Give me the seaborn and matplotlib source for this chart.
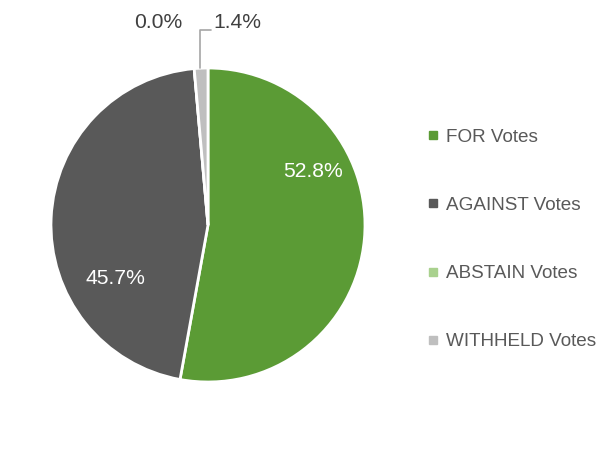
import matplotlib
matplotlib.use("Agg")
import matplotlib.pyplot as plt
from matplotlib.lines import Line2D
import seaborn as sns

categories = ["FOR Votes", "AGAINST Votes", "ABSTAIN Votes", "WITHHELD Votes"]
values = [52.8, 45.7, 0.0, 1.4]
labels = ["52.8%", "45.7%", "0.0%", "1.4%"]
colors = ["#5b9b35", "#595959", "#a9d18e", "#bfbfbf"]

sns.set_theme(style="white")
plt.rcParams['font.family'] = ['Liberation Sans', 'DejaVu Sans']

W, H = 609, 450
fig = plt.figure(figsize=(W / 100, H / 100), dpi=100)
cx, cy, r = 208, 225, 157
ax = fig.add_axes([(cx - r) / W, (H - cy - r) / H, 2 * r / W, 2 * r / H])
ax.pie(values, colors=colors, startangle=90, counterclock=False,
       wedgeprops=dict(edgecolor="white", linewidth=2), radius=1.0)
ax.set_xlim(-1, 1)
ax.set_ylim(-1, 1)
ax.set_aspect("equal")
ax.axis("off")

lab_pos = [(0.67, 0.34), (-0.59, -0.34), (-0.32, 1.29), (0.19, 1.29)]
lab_col = ["white", "white", "#404040", "#404040"]
for (x, y), t, c in zip(lab_pos, labels, lab_col):
    ax.text(x, y, t, ha="center", va="center", fontsize=15.2, color=c, clip_on=False)

ax.add_line(Line2D([-0.05, -0.05, 0.02], [1.0, 1.24, 1.24], color="#a6a6a6",
                   lw=1.2, clip_on=False))

handles = [Line2D([0], [0], marker="s", linestyle="none", markersize=5.5,
                  markerfacecolor=c, markeredgecolor=c) for c in colors]
leg = fig.legend(handles, categories, loc="center left",
                 bbox_to_anchor=(420 / W, 1 - 239.5 / H), frameon=False,
                 fontsize=13.6, labelspacing=2.7, handlelength=0.6,
                 handletextpad=0.35, borderaxespad=0)
for t in leg.get_texts():
    t.set_color("#595959")

fig.savefig("out.png", dpi=100)
